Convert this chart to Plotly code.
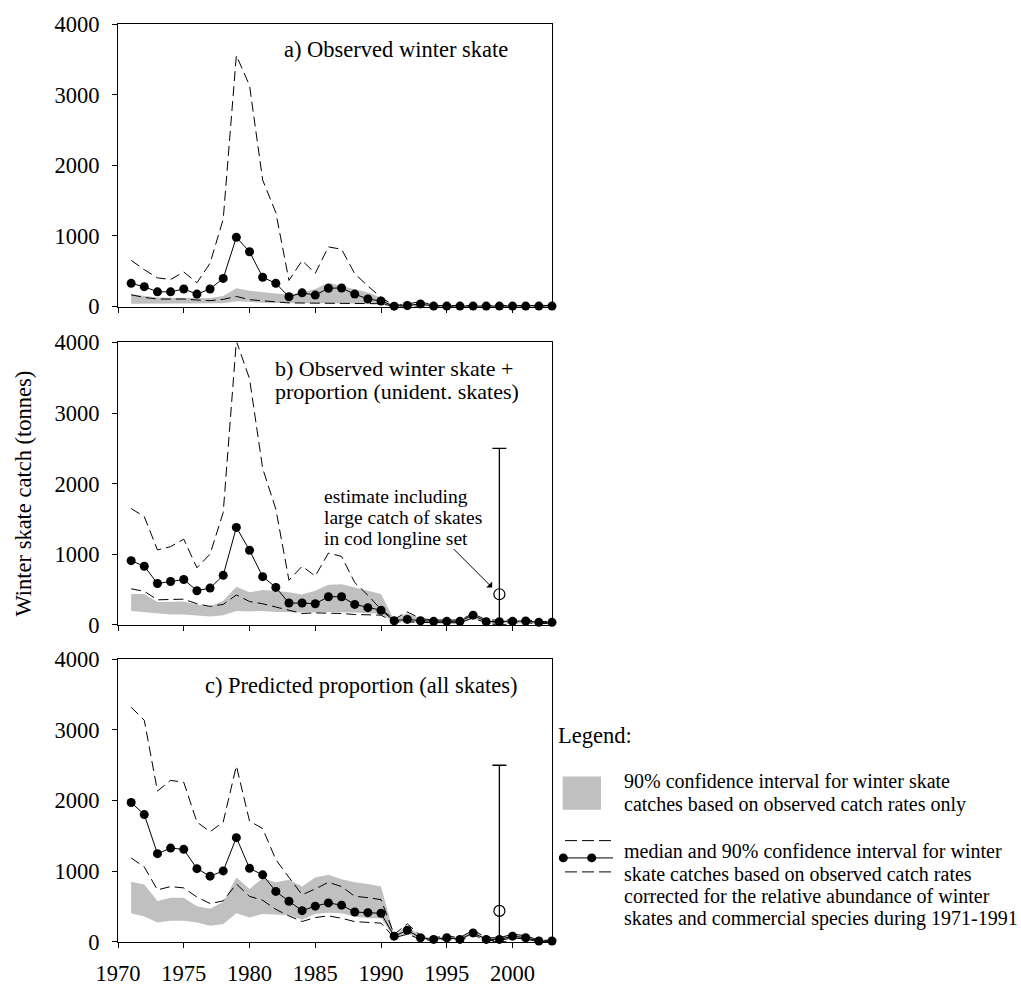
import plotly.graph_objects as go

# ---------------------------------------------------------------- data
years = list(range(1971, 2004))

# a) Observed winter skate
a_median = [328, 281, 208, 208, 249, 176, 249, 398, 980, 776, 415, 328, 138, 194, 162, 259, 263, 176, 107, 78,
            5, 15, 37, 6, 6, 6, 6, 6, 6, 6, 6, 6, 6]
a_upper = [655, 522, 406, 383, 489, 337, 614, 1237, 3555, 3130, 1791, 1330, 370, 650, 470, 845, 810, 465, 291, 129,
           15, 35, 70, 15, 15, 15, 15, 15, 15, 15, 15, 15, 15]
a_lower = [166, 129, 106, 106, 106, 92, 83, 101, 143, 97, 83, 69, 51, 50, 50, 50, 50, 45, 42, 40,
           2, 2, 2, 2, 2, 2, 2, 2, 2, 2, 2, 2, 2]
a_band_hi = [175, 150, 129, 125, 125, 120, 120, 150, 259, 222, 200, 185, 175, 200, 250, 337, 291, 240, 199, 129,
             10, 25, 45, 10, 10, 10, 10, 10, 10, 10, 10, 10, 10]
a_band_lo = [40, 40, 42, 42, 42, 40, 40, 45, 75, 60, 55, 50, 45, 45, 45, 45, 45, 45, 42, 40,
             2, 2, 2, 2, 2, 2, 2, 2, 2, 2, 2, 2, 2]

# b) Observed winter skate + proportion (unident. skates)
b_median = [910, 831, 587, 615, 643, 485, 522, 702, 1381, 1058, 684, 532, 310, 310, 300, 400, 400, 291, 245, 208,
            60, 79, 60, 51, 51, 51, 139, 47, 47, 51, 56, 37, 37]
b_upper = [1648, 1533, 1062, 1108, 1215, 809, 1003, 1593, 4020, 3486, 2216, 1640, 633, 831, 693, 1017, 970, 601, 420, 220,
           80, 185, 90, 70, 70, 70, 160, 70, 70, 75, 75, 50, 50]
b_lower = [512, 476, 356, 365, 365, 300, 263, 291, 425, 332, 300, 254, 208, 162, 171, 171, 162, 148, 139, 139,
           40, 45, 35, 30, 30, 30, 100, 28, 28, 30, 32, 20, 20]
b_band_hi = [439, 438, 324, 333, 333, 291, 263, 341, 540, 462, 494, 480, 462, 430, 485, 568, 578, 532, 485, 439,
             70, 170, 85, 60, 60, 60, 150, 60, 60, 65, 65, 45, 45]
b_band_lo = [199, 185, 162, 148, 148, 134, 120, 139, 199, 190, 199, 185, 180, 170, 175, 185, 185, 175, 165, 160,
             30, 40, 30, 25, 25, 25, 90, 25, 25, 25, 28, 18, 18]

# c) Predicted proportion (all skates)
c_median = [1973, 1802, 1249, 1328, 1310, 1037, 931, 1005, 1476, 1042, 950, 715, 576, 443, 507, 553, 521, 424, 415, 406,
            83, 166, 60, 37, 60, 37, 129, 37, 37, 83, 60, 14, 14]
c_upper = [3320, 3135, 2134, 2286, 2259, 1697, 1559, 1697, 2490, 1711, 1604, 1166, 913, 668, 751, 844, 784, 646, 627, 599,
           106, 258, 90, 60, 85, 60, 170, 60, 60, 110, 90, 25, 25]
c_lower = [1189, 1061, 737, 784, 765, 636, 544, 581, 820, 646, 590, 461, 369, 290, 346, 369, 336, 288, 277, 267,
           60, 110, 40, 20, 40, 20, 100, 20, 20, 60, 40, 5, 5]
c_band_hi = [853, 812, 581, 627, 627, 507, 470, 567, 913, 751, 903, 844, 881, 784, 913, 950, 889, 844, 820, 784,
             95, 230, 80, 55, 80, 55, 160, 55, 55, 100, 85, 22, 22]
c_band_lo = [405, 360, 277, 300, 300, 277, 231, 253, 405, 346, 397, 383, 378, 313, 397, 415, 405, 360, 336, 336,
             65, 120, 45, 25, 45, 25, 105, 25, 25, 65, 45, 8, 8]

# single-set estimate that includes the large catch of skates (1999)
outlier_year = [1999]
b_outlier = [435]
c_outlier = [440]
outlier_high = 2500

panel_titles = {
    "a": ["a) Observed winter skate"],
    "b": ["b) Observed winter skate +", "proportion (unident. skates)"],
    "c": ["c) Predicted proportion (all skates)"],
}
note_lines = ["estimate including", "large catch of skates", "in cod longline set"]
legend_band_text = ["90% confidence interval for winter skate",
                    "catches based on observed catch rates only"]
legend_line_text = ["median and 90% confidence interval for winter",
                    "skate catches based on observed catch rates",
                    "corrected for the relative abundance of winter",
                    "skates and commercial species during 1971-1991"]
y_ticks = [0, 1000, 2000, 3000, 4000]
x_ticks = [1970, 1975, 1980, 1985, 1990, 1995, 2000]

# ---------------------------------------------------------------- layout geometry
W, H = 1021, 998
ML, MR, MT, MB = 118, 469, 17, 42
PW, PH = W - ML - MR, H - MT - MB

def px2x(px):
    return (px - ML) / PW

def py2y(py):
    return (H - MB - py) / PH

domains = {
    "a": [py2y(306), 1.0],
    "b": [py2y(631.7), py2y(342.7)],
    "c": [0.0, py2y(666.7)],
}

FONT = "Liberation Serif, Times New Roman, serif"
GRAY = "#c0c0c0"
DASH = "10px,5px"

fig = go.Figure()

panels = [
    ("a", "x", "y", a_median, a_upper, a_lower, a_band_hi, a_band_lo, None),
    ("b", "x2", "y2", b_median, b_upper, b_lower, b_band_hi, b_band_lo, b_outlier),
    ("c", "x3", "y3", c_median, c_upper, c_lower, c_band_hi, c_band_lo, c_outlier),
]

for key, xa, ya, med, up, lo, bhi, blo, outl in panels:
    fig.add_trace(go.Scatter(x=years, y=blo, xaxis=xa, yaxis=ya, mode="lines",
                             line=dict(width=0, color=GRAY), showlegend=False, hoverinfo="skip"))
    fig.add_trace(go.Scatter(x=years, y=bhi, xaxis=xa, yaxis=ya, mode="lines",
                             line=dict(width=0, color=GRAY), fill="tonexty", fillcolor=GRAY,
                             showlegend=False, hoverinfo="skip"))
    for series in (up, lo):
        fig.add_trace(go.Scatter(x=years, y=series, xaxis=xa, yaxis=ya, mode="lines",
                                 line=dict(color="black", width=1, dash=DASH), showlegend=False))
    fig.add_trace(go.Scatter(x=years, y=med, xaxis=xa, yaxis=ya, mode="lines+markers",
                             line=dict(color="black", width=1),
                             marker=dict(color="black", size=9),
                             cliponaxis=False, showlegend=False))
    if outl is not None:
        fig.add_trace(go.Scatter(
            x=outlier_year, y=outl, xaxis=xa, yaxis=ya, mode="markers",
            marker=dict(symbol="circle-open", size=11, color="black", line=dict(width=1.2)),
            error_y=dict(type="data", symmetric=False,
                         array=[outlier_high - v for v in outl], arrayminus=outl,
                         color="black", thickness=1.3, width=7),
            cliponaxis=False, showlegend=False))

axis_common = dict(showline=True, linecolor="black", linewidth=1, mirror=True,
                   ticks="outside", ticklen=5, tickwidth=1, tickcolor="black",
                   showgrid=False, zeroline=False,
                   tickfont=dict(family=FONT, size=22.5, color="black"))

layout = dict(
    width=W, height=H, margin=dict(l=ML, r=MR, t=MT, b=MB, pad=0),
    paper_bgcolor="white", plot_bgcolor="white",
    font=dict(family=FONT, color="black"),
    showlegend=False,
)
for i, key in enumerate(["a", "b", "c"]):
    suffix = "" if i == 0 else str(i + 1)
    layout["xaxis" + suffix] = dict(axis_common, domain=[0, 1], range=[1970, 2003],
                                    tickvals=x_ticks, showticklabels=(key == "c"),
                                    anchor="y" + suffix, ticklabelstandoff=6)
    layout["yaxis" + suffix] = dict(axis_common, domain=domains[key], range=[0, 4000],
                                    tickvals=y_ticks, anchor="x" + suffix, ticklabelstandoff=8)
fig.update_layout(**layout)

annotations = []

def text_at(px, py, text, size, anchor="left"):
    annotations.append(dict(xref="paper", yref="paper", x=px2x(px), y=py2y(py), text=text,
                            showarrow=False, xanchor=anchor, yanchor="middle",
                            font=dict(family=FONT, size=size, color="black")))

# panel titles
text_at(281.7, 43.3, panel_titles["a"][0], 22.5)
text_at(273, 369, panel_titles["b"][0], 22)
text_at(273, 392.5, panel_titles["b"][1], 22)
text_at(203.3, 693.3, panel_titles["c"][0], 22.5)

# note on the 1999 estimate
for j, line in enumerate(note_lines):
    text_at(321.7, 500.2 + 21.5 * j, line, 19.5)
annotations.append(dict(xref="x2", yref="y2", x=1998.45, y=530, ax=-40, ay=-40,
                        axref="pixel", ayref="pixel", text="", showarrow=True,
                        arrowhead=1, arrowsize=1.4, arrowwidth=1, arrowcolor="black"))

# y-axis title
annotations.append(dict(xref="paper", yref="paper", x=px2x(23.3), y=py2y(497),
                        text="Winter skate catch (tonnes)", textangle=-90, showarrow=False,
                        xanchor="center", yanchor="middle",
                        font=dict(family=FONT, size=22.5, color="black")))

# legend block
text_at(556, 745, "Legend:", 22.5)
for j, line in enumerate(legend_band_text):
    text_at(622, 791.7 + 23.3 * j, line, 20)
for j, line in enumerate(legend_line_text):
    text_at(622, 863.3 + 23 * j, line, 20)

fig.update_layout(annotations=annotations)

shapes = [
    dict(type="rect", xref="paper", yref="paper", x0=px2x(562.7), x1=px2x(601),
         y0=py2y(820.7), y1=py2y(786.7), fillcolor=GRAY, line=dict(width=0)),
    dict(type="line", xref="paper", yref="paper", x0=px2x(565), x1=px2x(613),
         y0=py2y(852.3), y1=py2y(852.3), line=dict(color="black", width=1, dash="12px,5px")),
    dict(type="line", xref="paper", yref="paper", x0=px2x(565), x1=px2x(613),
         y0=py2y(884.3), y1=py2y(884.3), line=dict(color="black", width=1, dash="12px,5px")),
    dict(type="line", xref="paper", yref="paper", x0=px2x(563.3), x1=px2x(613),
         y0=py2y(870), y1=py2y(870), line=dict(color="black", width=1)),
]
for cx in (563.3, 591.7):
    shapes.append(dict(type="circle", xref="paper", yref="paper",
                       x0=px2x(cx - 4.5), x1=px2x(cx + 4.5),
                       y0=py2y(870 + 4.5), y1=py2y(870 - 4.5),
                       fillcolor="black", line=dict(color="black", width=0)))
fig.update_layout(shapes=shapes)

fig.write_html("out.html")
